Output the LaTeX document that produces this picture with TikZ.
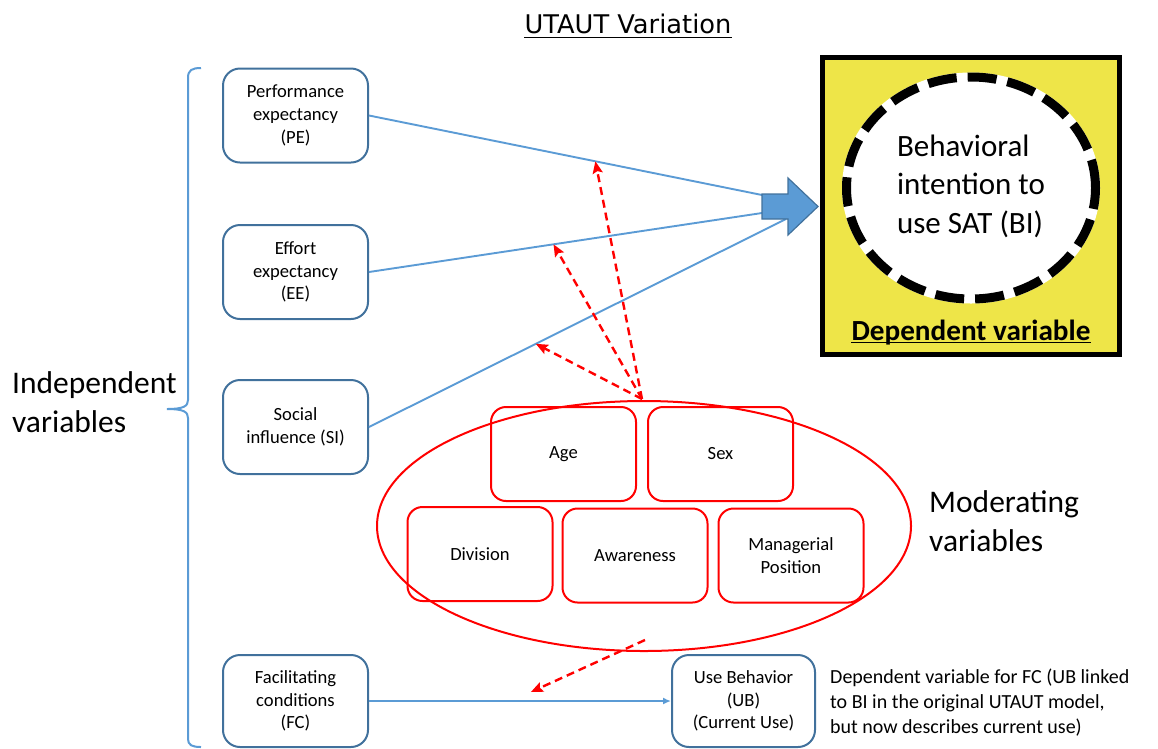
\documentclass[tikz,border=0pt]{standalone}
\usepackage{fontspec}
\setmainfont{Carlito}
\newfontfamily\titlefont{DejaVu Sans}
\usetikzlibrary{shapes.geometric,arrows.meta,calc}
\definecolor{lineblue}{RGB}{91,155,213}
\definecolor{edgeblue}{RGB}{65,113,156}
\definecolor{boxyellow}{RGB}{238,229,72}
\definecolor{modred}{RGB}{255,0,0}
\tikzset{
  varbox/.style={draw=edgeblue, line width=2pt, rounded corners=17pt,
    minimum width=145pt, minimum height=94pt, align=center, inner sep=0pt,
    font=\fontsize{18.6}{22.8}\selectfont},
  modbox/.style={draw=modred, line width=2pt, rounded corners=15pt,
    minimum width=145pt, minimum height=94pt, align=center, inner sep=0pt,
    font=\fontsize{18.6}{22.8}\selectfont},
  pathlink/.style={draw=lineblue, line width=1.9pt},
  moderates/.style={draw=modred, line width=2.4pt, dash pattern=on 8pt off 5pt,
    -{Stealth[length=12pt,width=10pt,inset=2pt]}},
  biglabel/.style={font=\fontsize{31.5}{39}\selectfont, align=left, inner sep=0pt},
}
\begin{document}
\begin{tikzpicture}[x=1pt,y=-1pt]
\useasboundingbox (0,0) rectangle (1158,748);

% title
\node[font=\titlefont\fontsize{25.7}{30}\selectfont, inner sep=0pt, anchor=base] (title) at (628,33) {UTAUT Variation};
\draw[line width=1.6pt] ($(title.base west)+(0,4.5)$) -- ($(title.base east)+(0,4.5)$);

% brace grouping the independent variables
\draw[lineblue, line width=2pt]
  (201,68) .. controls (192,68) and (188,70) .. (188,78) -- (188,400)
  .. controls (188,406) and (184,409) .. (167,409)
  .. controls (184,409) and (188,412) .. (188,418) -- (188,739)
  .. controls (188,745) and (192,747) .. (201,747);
\node[biglabel, anchor=west] (indep) at (12,402) {Independent\\variables};

% independent variables
\node[varbox] (PE) at (295.5,115.5) {Performance\\expectancy\\(PE)};
\node[varbox] (EE) at (295.5,272) {Effort\\expectancy\\(EE)};
\node[varbox] (SI) at (295.5,427) {Social\\influence (SI)};
\node[varbox, minimum height=92pt] (FC) at (295.5,701) {Facilitating\\conditions\\(FC)};
\node[varbox, minimum width=143pt, minimum height=92pt] (UB) at (743.5,701) {Use Behavior\\(UB)\\(Current Use)};

% links into the behavioral intention arrow
\coordinate (inPE) at (762,195);
\coordinate (inEE) at (762,213);
\coordinate (inSI) at (786,219);
\draw[pathlink] (PE.east) -- (inPE);
\draw[pathlink] (EE.east) -- (inEE);
\draw[pathlink] (SI.east) -- (inSI);
\fill[lineblue, draw=edgeblue, line width=1.2pt]
  (762,194) -- (788,194) -- (788,178) -- (818,206.5) -- (788,235) -- (788,219) -- (762,219) -- cycle;

\draw[pathlink, -{Latex[length=8pt,width=7pt]}] (FC.east) -- (UB.west);

% dependent variable panel
\node[draw=black, line width=5pt, fill=boxyellow, minimum width=297pt, minimum height=297pt, inner sep=0pt] (dv) at (971,206) {};
\node[ellipse, fill=white, minimum width=258pt, minimum height=231pt, inner sep=0pt] (BI) at (971,188) {};
\draw[black, line width=9pt, dash pattern=on 29pt off 11pt, dash phase=8pt] (BI.center) ellipse [x radius=124.5, y radius=111];
\node[font=\fontsize{31}{38.5}\selectfont, align=left, inner sep=0pt] (bitext) at (971,186) {Behavioral\\intention to\\use SAT (BI)};
\node[font=\bfseries\fontsize{29.2}{34}\selectfont, inner sep=0pt, anchor=base] (dvlabel) at (971,340) {Dependent variable};
\draw[line width=1.8pt] ($(dvlabel.base west)+(0,2.5)$) -- ($(dvlabel.base east)+(0,2.5)$);

% moderating variables
\node[ellipse, draw=modred, line width=2pt, minimum width=534pt, minimum height=250pt, inner sep=0pt] (MOD) at (644,526) {};
\node[modbox] (age) at (563.5,454) {Age};
\node[modbox] (sex) at (720.5,454) {Sex};
\node[modbox] (div) at (480,554) {Division};
\node[modbox] (aware) at (635,555.5) {Awareness};
\node[modbox] (mgr) at (791,555.5) {Managerial\\Position};
\node[biglabel, anchor=west] (modlabel) at (929,521) {Moderating\\variables};

% moderation of the paths
\coordinate (modtop) at ($(MOD.north)+(-2,-1)$);
\coordinate (modlow) at ($(MOD.south)+(1,-12)$);
\coordinate (onPE) at ($(PE.east)!0.576!(inPE)$);
\coordinate (onEE) at ($(EE.east)!0.4695!(inEE)$);
\coordinate (onSI) at ($(SI.east)!0.40!(inSI)$);
\coordinate (onFC) at ($(FC.east)!0.536!(UB.west)+(0,-9)$);
\draw[moderates] (modtop) -- (onPE);
\draw[moderates] (modtop) -- (onEE);
\draw[moderates] (modtop) -- (onSI);
\draw[moderates] (modlow) -- (onFC);

% note on use behavior
\node[font=\fontsize{20}{25}\selectfont, align=left, inner sep=0pt, anchor=west] (ubnote) at (830,703)
  {Dependent variable for FC (UB linked\\to BI in the original UTAUT model,\\but now describes current use)};
\end{tikzpicture}
\end{document}
